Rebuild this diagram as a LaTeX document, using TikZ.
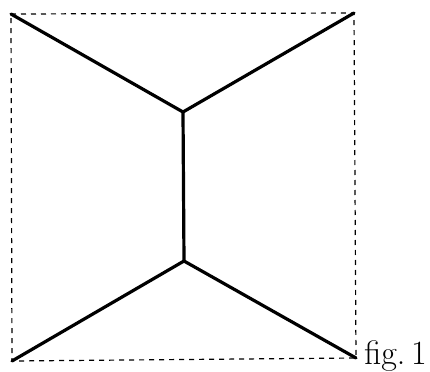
\documentclass[tikz,border=0pt]{standalone}
\usepackage{tikz}
\usetikzlibrary{positioning,calc}

\tikzset{
  frameline/.style={line width=0.6pt, dash pattern=on 2.5pt off 2.5pt},
  edgeline/.style={line width=1.6pt, line cap=round, line join=round}
}

\begin{document}
\begin{tikzpicture}[x=0.5pt, y=-0.5pt]
  \useasboundingbox (0, 0) rectangle (430, 371);

  % Corners of the square
  \coordinate (tl) at (11, 14);
  \coordinate (tr) at (354, 13);
  \coordinate (bl) at (12, 361);
  \coordinate (br) at (356, 358);

  % Inner junctions
  \coordinate (jt) at (183, 112);
  \coordinate (jb) at (184, 261);

  % Dashed frame
  \draw[frameline] (tl) -- (tr) -- (br) -- (bl) -- cycle;

  % Solid edges
  \draw[edgeline] (tl) -- (jt) -- (tr);
  \draw[edgeline] (jt) -- (jb);
  \draw[edgeline] (bl) -- (jb) -- (br);

  % Label
  \node[anchor=base west, inner sep=0pt, font=\fontsize{17}{20}\selectfont] (figlabel) at (364, 364) {f{}ig.\,1};
\end{tikzpicture}
\end{document}
